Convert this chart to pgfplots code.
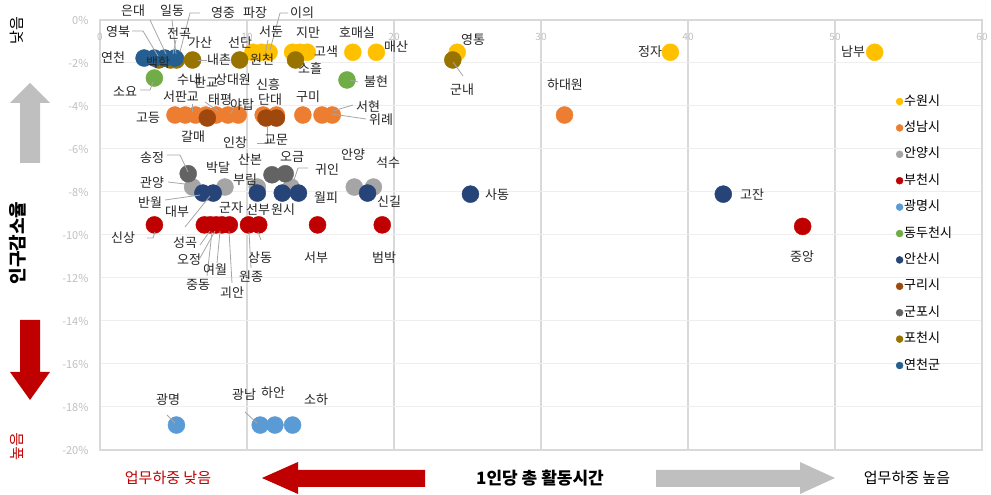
\documentclass[border=0pt]{standalone}
\usepackage{fontspec}
\setmainfont{Noto Sans CJK KR}
\usepackage{pgfplots}
\pgfplotsset{compat=1.18}
\definecolor{cSuwon}{HTML}{FFC000}
\definecolor{cSeongnam}{HTML}{ED7D31}
\definecolor{cAnyang}{HTML}{A5A5A5}
\definecolor{cBucheon}{HTML}{C00000}
\definecolor{cGwangmyeong}{HTML}{5B9BD5}
\definecolor{cDongducheon}{HTML}{70AD47}
\definecolor{cAnsan}{HTML}{264478}
\definecolor{cGuri}{HTML}{9E480E}
\definecolor{cGunpo}{HTML}{636363}
\definecolor{cPocheon}{HTML}{997300}
\definecolor{cYeoncheon}{HTML}{255E91}
\definecolor{tickgray}{HTML}{BFBFBF}
\definecolor{vgrid}{HTML}{D9D9D9}
\definecolor{hgrid}{HTML}{EEEEEE}
\definecolor{leader}{HTML}{A6A6A6}
\definecolor{arrred}{HTML}{C00000}
\definecolor{arrgray}{HTML}{BFBFBF}
\newcommand{\lab}[3]{\node[font=\fontsize{13}{14}\selectfont, text=black!85, inner sep=0pt] at (#1,#2) {#3};}
\pgfplotsset{pt/.style={only marks, mark=*, mark size=8.5pt, color=#1}}
\begin{document}
\begin{tikzpicture}
\begin{axis}[
  at={(100pt,45pt)}, anchor=south west,
  scale only axis, width=882pt, height=430pt,
  xmin=0, xmax=60, ymin=-20, ymax=0,
  xtick={0,10,20,30,40,50,60},
  ytick={-20,-18,-16,-14,-12,-10,-8,-6,-4,-2,0},
  yticklabels={{-20\%},{-18\%},{-16\%},{-14\%},{-12\%},{-10\%},{-8\%},{-6\%},{-4\%},{-2\%},{0\%}},
  xticklabels={0,10,20,30,40,50,60},
  xticklabel pos=upper,
  xticklabel style={anchor=center, yshift=-17pt, font=\fontsize{10}{12}\selectfont, text=tickgray},
  yticklabel style={anchor=east, xshift=-8pt, font=\fontsize{11}{12}\selectfont, text=tickgray},
  major tick length=0pt,
  grid=major,
  x grid style={draw=vgrid, line width=1.5pt},
  y grid style={draw=hgrid, line width=1pt},
  axis line style={draw=vgrid, line width=1.5pt},
  clip=false,
  legend style={at={(0.899,0.833)}, anchor=north west, draw=none, fill=none,
    font=\fontsize{13}{15}\selectfont, row sep=11.4pt,
    nodes={text height=10pt, text depth=3pt, inner sep=1pt},
    /tikz/every even column/.append style={column sep=2pt}},
  legend cell align=left,
  legend image code/.code={\draw[#1, mark size=3.5pt] plot coordinates {(3.5pt,0pt)};},
]
% 수원시
\addplot[pt=cSuwon] coordinates {(10.4,-1.5) (11.0,-1.5) (11.5,-1.5) (13.1,-1.5) (13.6,-1.5) (14.1,-1.5) (17.2,-1.5) (18.8,-1.5) (24.3,-1.5) (38.8,-1.5) (52.7,-1.5)};
\addlegendentry{수원시}
% 성남시
\addplot[pt=cSeongnam] coordinates {(5.1,-4.42) (5.8,-4.42) (6.5,-4.42) (7.2,-4.42) (7.9,-4.42) (8.7,-4.42) (9.4,-4.42) (11.1,-4.42) (12.0,-4.42) (13.8,-4.42) (15.1,-4.42) (15.8,-4.42) (31.6,-4.42)};
\addlegendentry{성남시}
% 안양시
\addplot[pt=cAnyang] coordinates {(6.3,-7.77) (8.5,-7.77) (10.7,-7.77) (13.0,-7.77) (17.3,-7.77) (18.6,-7.77)};
\addlegendentry{안양시}
% 부천시
\addplot[pt=cBucheon] coordinates {(3.7,-9.53) (7.1,-9.53) (7.5,-9.53) (7.9,-9.53) (8.3,-9.53) (8.8,-9.53) (10.1,-9.53) (10.8,-9.53) (14.8,-9.53) (19.2,-9.53) (47.8,-9.6)};
\addlegendentry{부천시}
% 광명시
\addplot[pt=cGwangmyeong] coordinates {(5.2,-18.84) (10.9,-18.84) (11.9,-18.84) (13.1,-18.84)};
\addlegendentry{광명시}
% 동두천시
\addplot[pt=cDongducheon] coordinates {(3.7,-2.7) (16.8,-2.79)};
\addlegendentry{동두천시}
% 안산시
\addplot[pt=cAnsan] coordinates {(7.0,-8.05) (7.7,-8.05) (10.7,-8.05) (12.4,-8.05) (13.5,-8.05) (18.2,-8.05) (25.2,-8.1) (42.4,-8.1)};
\addlegendentry{안산시}
% 구리시
\addplot[pt=cGuri] coordinates {(7.3,-4.56) (11.3,-4.56) (12.0,-4.56)};
\addlegendentry{구리시}
% 군포시
\addplot[pt=cGunpo] coordinates {(6.0,-7.15) (11.7,-7.2) (12.6,-7.15)};
\addlegendentry{군포시}
% 포천시
\addplot[pt=cPocheon] coordinates {(4.0,-1.86) (4.8,-1.86) (5.2,-1.86) (6.3,-1.86) (9.5,-1.86) (13.3,-1.86) (24.0,-1.86)};
\addlegendentry{포천시}
% 연천군
\addplot[pt=cYeoncheon] coordinates {(3.0,-1.77) (3.7,-1.77) (4.4,-1.77) (5.1,-1.77)};
\addlegendentry{연천군}
\end{axis}
\begin{scope}[x=1pt,y=-1pt,yshift=495pt]
% leader lines
\begin{scope}[draw=leader, line width=0.8pt]
\draw (132,31)--(143,31)--(158,56);
\draw (150,20)--(166,54);
\draw (172,20)--(176,54);
\draw (200,13)--(190,13)--(180,52);
\draw (176,40)--(173,54);
\draw (198,60)--(207,60);
\draw (268,40)--(265,55);
\draw (288,13)--(280,13)--(270,50);
\draw (140,90)--(150,90)--(153,82);
\draw (192,104)--(192,112);
\draw (205,102)--(218,111);
\draw (233,110)--(230,114);
\draw (257,143)--(267,143)--(267,126);
\draw (167,155)--(180,155)--(188,172);
\draw (168,182)--(193,185);
\draw (165,200)--(200,195);
\draw (185,227)--(210,196);
\draw (308,168)--(298,168)--(292,186);
\draw (147,238)--(153,238)--(155,232);
\draw (200,245)--(210,231);
\draw (200,258)--(215,231);
\draw (217,263)--(220,231);
\draw (232,283)--(229,231);
\draw (207,276)--(212,232);
\draw (251,268)--(249,232);
\draw (261,240)--(258,232);
\draw (167,415)--(175,423);
\draw (245,412)--(257,423);
\draw (350,80)--(358,82);
\draw (453,62)--(463,76);
\draw (333,111)--(353,105);
\draw (332,114)--(366,119);
\end{scope}
% data labels
\lab{118}{32}{영북}
\lab{133}{11}{은대}
\lab{172}{11}{일동}
\lab{223}{13}{영중}
\lab{255}{13}{파장}
\lab{302}{13}{이의}
\lab{179}{34}{전곡}
\lab{200}{43}{가산}
\lab{240}{43}{선단}
\lab{271}{32}{서둔}
\lab{308}{33}{지만}
\lab{357}{33}{호매실}
\lab{113}{58}{연천}
\lab{158}{63}{백학}
\lab{219}{60}{내촌}
\lab{262}{60}{원천}
\lab{326}{52}{고색}
\lab{396}{47}{매산}
\lab{473}{40}{영통}
\lab{462}{90}{군내}
\lab{310}{68}{소흘}
\lab{125}{92}{소요}
\lab{376}{82}{불현}
\lab{189}{80}{수내}
\lab{206}{83}{판교}
\lab{233}{80}{상대원}
\lab{268}{85}{신흥}
\lab{181}{97}{서판교}
\lab{220}{100}{태평}
\lab{242}{105}{야탑}
\lab{270}{100}{단대}
\lab{308}{97}{구미}
\lab{368}{107}{서현}
\lab{381}{120}{위례}
\lab{148}{118}{고등}
\lab{193}{137}{갈매}
\lab{235}{143}{인창}
\lab{276}{140}{교문}
\lab{565}{85}{하대원}
\lab{650}{52}{정자}
\lab{853}{52}{남부}
\lab{152}{158}{송정}
\lab{218}{168}{박달}
\lab{250}{160}{산본}
\lab{292}{157}{오금}
\lab{327}{170}{귀인}
\lab{353}{155}{안양}
\lab{388}{163}{석수}
\lab{152}{183}{관양}
\lab{245}{180}{부림}
\lab{150}{203}{반월}
\lab{177}{212}{대부}
\lab{231}{208}{군자}
\lab{258}{210}{선부}
\lab{283}{210}{원시}
\lab{326}{198}{월피}
\lab{389}{202}{신길}
\lab{497}{195}{사동}
\lab{752}{195}{고잔}
\lab{123}{238}{신상}
\lab{185}{243}{성곡}
\lab{189}{260}{오정}
\lab{215}{270}{여월}
\lab{198}{285}{중동}
\lab{232}{293}{괴안}
\lab{260}{258}{상동}
\lab{251}{277}{원종}
\lab{316}{258}{서부}
\lab{384}{258}{범박}
\lab{802}{257}{중앙}
\lab{168}{400}{광명}
\lab{244}{395}{광남}
\lab{273}{393}{하안}
\lab{316}{400}{소하}
% left annotations
\node[rotate=90, font=\fontsize{15}{16}\selectfont, inner sep=0pt] at (17,31) {낮음};
\fill[arrgray] (30,83)--(50,103)--(40,103)--(40,163)--(20,163)--(20,103)--(10,103)--cycle;
\node[rotate=90, font=\fontsize{18}{19}\selectfont\bfseries, inner sep=0pt] at (18,243) {인구감소율};
\fill[arrred] (20,320)--(40,320)--(40,372)--(50,372)--(30,400)--(10,372)--(20,372)--cycle;
\node[rotate=90, font=\fontsize{15}{16}\selectfont, text=arrred, inner sep=0pt] at (17,447) {높음};
% bottom annotations
\node[font=\fontsize{15}{16}\selectfont, text=arrred, inner sep=0pt] at (168,478) {업무하중 낮음};
\fill[arrred] (262,478)--(298,462)--(298,470)--(425,470)--(425,487)--(298,487)--(298,494)--cycle;
\node[font=\fontsize{17}{18}\selectfont\bfseries, inner sep=0pt] at (540,478) {1인당 총 활동시간};
\fill[arrgray] (656,470)--(800,470)--(800,462)--(835,478)--(800,494)--(800,487)--(656,487)--cycle;
\node[font=\fontsize{15}{16}\selectfont, inner sep=0pt] at (907,478) {업무하중 높음};
\end{scope}
\pgfresetboundingbox
\path (0,0) rectangle (991pt,495pt);
\end{tikzpicture}
\end{document}
